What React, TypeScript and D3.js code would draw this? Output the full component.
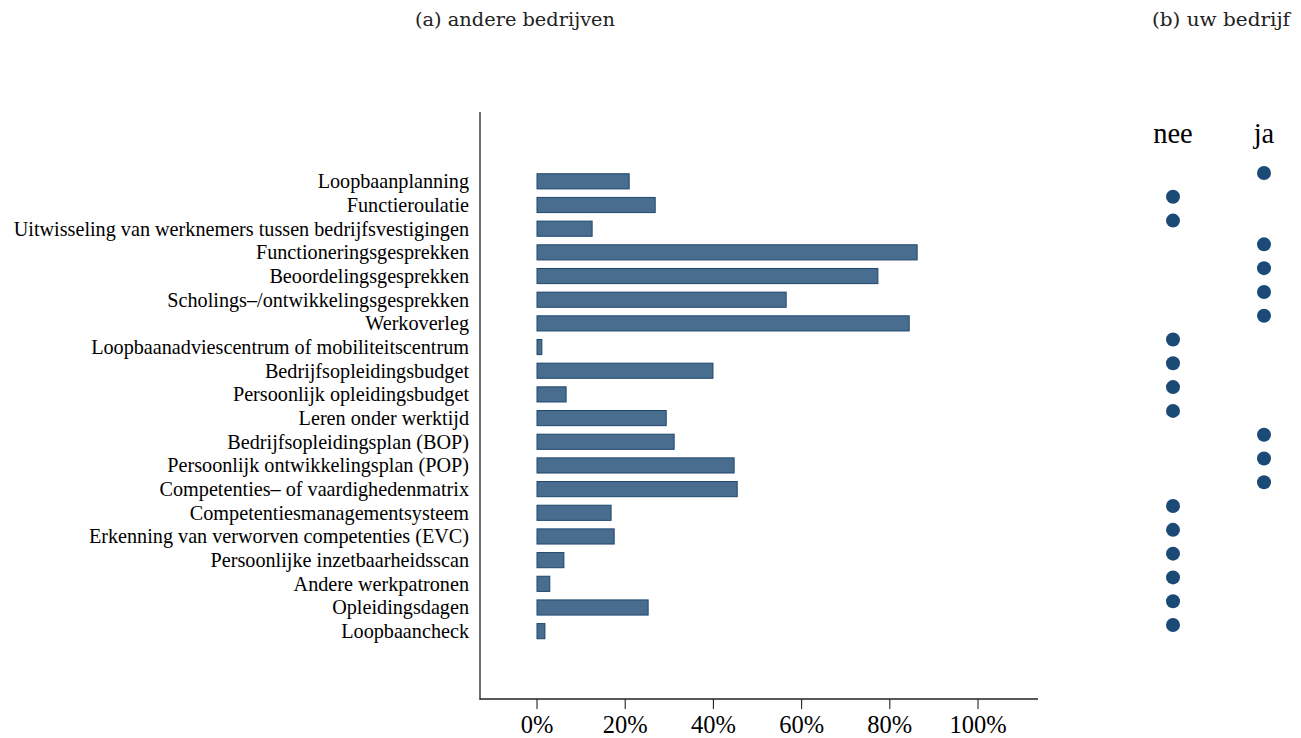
import React from "react";
import * as d3 from "d3";

const categories = [
  "Loopbaanplanning",
  "Functieroulatie",
  "Uitwisseling van werknemers tussen bedrijfsvestigingen",
  "Functioneringsgesprekken",
  "Beoordelingsgesprekken",
  "Scholings\u2013/ontwikkelingsgesprekken",
  "Werkoverleg",
  "Loopbaanadviescentrum of mobiliteitscentrum",
  "Bedrijfsopleidingsbudget",
  "Persoonlijk opleidingsbudget",
  "Leren onder werktijd",
  "Bedrijfsopleidingsplan (BOP)",
  "Persoonlijk ontwikkelingsplan (POP)",
  "Competenties\u2013 of vaardighedenmatrix",
  "Competentiesmanagementsysteem",
  "Erkenning van verworven competenties (EVC)",
  "Persoonlijke inzetbaarheidsscan",
  "Andere werkpatronen",
  "Opleidingsdagen",
  "Loopbaancheck",
];

const shares = [20.9, 26.8, 12.5, 86.2, 77.3, 56.5, 84.4, 1.1, 39.9, 6.6, 29.3, 31.1, 44.7, 45.4, 16.8, 17.5, 6.1, 2.9, 25.2, 1.8];

const answers = ["ja", "nee", "nee", "ja", "ja", "ja", "ja", "nee", "nee", "nee", "nee", "ja", "ja", "ja", "nee", "nee", "nee", "nee", "nee", "nee"];

const answerColumns = ["nee", "ja"];
const xTicks = [0, 20, 40, 60, 80, 100];

const W = 1301;
const H = 738;

export default function App() {
  const x = d3.scaleLinear().domain([0, 100]).range([537, 978]);
  const y = d3.scaleBand().domain(categories).range([169.5, 643]).paddingInner(0.36).paddingOuter(0.18);
  const yDot = d3.scalePoint().domain(categories).range([173, 625]);
  const xDot = d3.scalePoint().domain(answerColumns).range([1173, 1264]);
  const serif = "'Liberation Serif', 'Times New Roman', serif";
  const titleFont = "'DejaVu Serif', serif";
  const barFill = "#486d8f";
  const barStroke = "#1e476e";
  const dotColor = "#1c4a77";

  return (
    <svg width={W} height={H} style={{ position: "absolute", left: 0, top: 0, background: "#fff" }}>
      <text x={415} y={26} fontFamily={titleFont} fontSize={18} fill="#222" textLength={200} lengthAdjust="spacingAndGlyphs">
        (a) andere bedrijven
      </text>
      <text x={1152} y={26} fontFamily={titleFont} fontSize={18} fill="#222" textLength={138} lengthAdjust="spacingAndGlyphs">
        (b) uw bedrijf
      </text>

      {/* axes */}
      <line x1={480} x2={480} y1={112} y2={699.5} stroke="#222" strokeWidth={1.3} />
      <line x1={479.5} x2={1038} y1={699} y2={699} stroke="#222" strokeWidth={1.3} />
      {xTicks.map((t) => (
        <g key={t}>
          <line x1={x(t)} x2={x(t)} y1={699} y2={709} stroke="#222" strokeWidth={1.1} />
          <text x={x(t)} y={733} textAnchor="middle" fontFamily={serif} fontSize={24.5} fill="#000">
            {t}%
          </text>
        </g>
      ))}

      {categories.map((c, i) => (
        <g key={c}>
          <text
            x={469}
            y={(y(c) as number) + y.bandwidth() / 2 + 7}
            textAnchor="end"
            fontFamily={serif}
            fontSize={20.2}
            fill="#000"
          >
            {c}
          </text>
          <rect
            x={x(0)}
            y={y(c) as number}
            width={x(shares[i]) - x(0)}
            height={y.bandwidth()}
            fill={barFill}
            stroke={barStroke}
            strokeWidth={1}
          />
          <circle cx={xDot(answers[i]) as number} cy={yDot(c) as number} r={7} fill={dotColor} />
        </g>
      ))}

      {answerColumns.map((a) => (
        <text key={a} x={xDot(a) as number} y={143} textAnchor="middle" fontFamily={serif} fontSize={28.5} fill="#000">
          {a}
        </text>
      ))}
    </svg>
  );
}
